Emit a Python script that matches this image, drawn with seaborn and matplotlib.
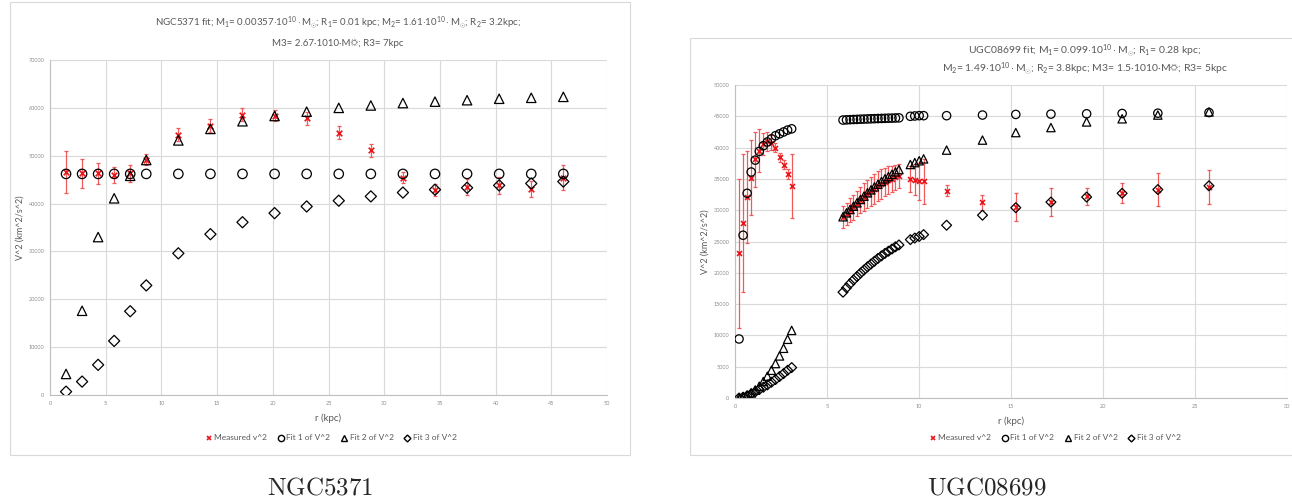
import numpy as np
import pandas as pd
import seaborn as sns
import matplotlib.pyplot as plt
from matplotlib.patches import Rectangle
from matplotlib.lines import Line2D

sns.set_style('white')
plt.rcParams['font.family'] = ['Lato', 'DejaVu Sans']
plt.rcParams['mathtext.fontset'] = 'custom'
plt.rcParams['mathtext.rm'] = 'Lato'
plt.rcParams['mathtext.it'] = 'Lato:italic'

# NGC5371 data
r_ngc = [1.44, 2.88, 4.32, 5.76, 7.2, 8.64, 11.52, 14.4, 17.28, 20.16,
         23.04, 25.92, 28.8, 31.68, 34.56, 37.44, 40.32, 43.2, 46.08]
meas_ngc = [46600, 46300, 46300, 46000, 46300, 49200, 54400, 56300, 58600, 58400,
            57800, 54800, 51100, 45400, 42900, 43400, 43800, 43000, 45400]
err_ngc = [4400, 3000, 2200, 1600, 1700, 1100, 1400, 1300, 1400, 1200,
           1400, 1350, 1300, 1100, 1250, 1650, 1800, 1650, 2600]
fit1_ngc = [46200, 46200, 46200, 46200, 46200, 46200, 46200, 46200, 46200, 46200,
            46200, 46200, 46200, 46200, 46200, 46200, 46200, 46200, 46200]
fit2_ngc = [4400, 17600, 33000, 41100, 45800, 49100, 53200, 55600, 57200, 58300,
            59200, 60000, 60500, 61000, 61300, 61600, 61900, 62100, 62300]
fit3_ngc = [700, 2800, 6300, 11300, 17500, 22900, 29600, 33600, 36100, 38000,
            39400, 40600, 41500, 42300, 42900, 43300, 43800, 44200, 44600]

# UGC08699 data
r_ugc = [0.22, 0.44, 0.66, 0.88, 1.10, 1.32, 1.54, 1.76, 1.98, 2.20, 2.42, 2.64, 2.86, 3.08,
         5.87, 6.06, 6.25, 6.44, 6.63, 6.82, 7.01, 7.20, 7.39, 7.58, 7.77, 7.96, 8.15, 8.34,
         8.53, 8.72, 8.91, 9.53, 9.77, 10.01, 10.25,
         11.50, 13.45, 15.26, 17.17, 19.11, 21.04, 22.98, 25.76]
meas_ugc = [23100, 27900, 32100, 35200, 38100, 39500, 40600, 41000, 40800, 40000, 38450, 37300, 35800, 33800,
            28900, 29400, 30000, 30500, 31000, 31600, 32100, 32600, 33000, 33400, 33800, 34200, 34500, 34800,
            35000, 35300, 35500, 35000, 34900, 34600, 34600,
            33100, 31300, 30500, 31300, 32200, 32800, 33300, 33700]
err_ugc = [11900, 11000, 7400, 6000, 4400, 3400, 1800, 1500, 1200, 700, 700, 750, 800, 5100,
           1700, 1800, 1900, 2000, 2000, 2100, 2200, 2300, 2300, 2400, 2400, 2400, 2300, 2200,
           2100, 2000, 1900, 2100, 2500, 2900, 3600,
           900, 1200, 2300, 2200, 1400, 1600, 2600, 2750]
fit1_ugc = [9430, 26000, 32700, 36100, 38000, 39400, 40300, 40900, 41400, 41900, 42200, 42500, 42800, 43000,
            44400, 44430, 44460, 44490, 44510, 44540, 44560, 44580, 44600, 44620, 44640, 44660, 44680, 44700,
            44710, 44730, 44750, 45000, 45050, 45100, 45100,
            45100, 45200, 45300, 45350, 45400, 45450, 45500, 45600]
fit2_ugc = [20, 180, 450, 810, 1290, 1880, 2630, 3480, 4430, 5500, 6720, 7940, 9380, 10800,
            28950, 29580, 30110, 30640, 31180, 31710, 32240, 32780, 33250, 33730, 34150, 34580, 35010, 35370,
            35740, 36120, 36490, 37300, 37600, 37900, 38200,
            39600, 41200, 42400, 43200, 44100, 44600, 45200, 45700]
fit3_ugc = [0, 130, 340, 660, 980, 1350, 1720, 2090, 2520, 2950, 3430, 3900, 4430, 4860,
            16900, 17600, 18250, 18850, 19400, 19950, 20450, 20950, 21400, 21850, 22300, 22700, 23100, 23450,
            23800, 24150, 24450, 25300, 25550, 25800, 26100,
            27600, 29200, 30400, 31300, 32100, 32700, 33300, 33900]

W, H = 1292, 499


def fx(px):
    return px / W


def fy(py):
    return 1 - py / H


def panel(ax, r, meas, err, f1, f2, f3, xmax, ymax, ystep, s):
    df = pd.DataFrame({'r': r, 'meas': meas, 'f1': f1, 'f2': f2, 'f3': f3})
    ax.errorbar(df['r'], df['meas'], yerr=err, fmt='none', ecolor='#f05a5a',
                elinewidth=0.9, capsize=1.3, capthick=0.9, zorder=2)
    sns.scatterplot(data=df, x='r', y='meas', marker='x', color='#e8161b', s=s * 0.35,
                    linewidth=1.2, ax=ax, zorder=3)
    for col, mk in [('f1', 'o'), ('f2', '^'), ('f3', 'D')]:
        size = s * 0.7 if mk == 'D' else s
        sns.scatterplot(data=df, x='r', y=col, marker=mk, color='black', facecolor='none',
                        edgecolor='black', linewidth=0.9, s=size, ax=ax, zorder=4)
    ax.set_xlim(0, xmax)
    ax.set_ylim(0, ymax)
    ax.set_xticks(np.arange(0, xmax + 1, 5))
    ax.set_yticks(np.arange(0, ymax + 1, ystep))
    ax.grid(True, color='#d9d9d9', lw=0.8)
    ax.set_axisbelow(True)
    for sp in ['top', 'right']:
        ax.spines[sp].set_visible(False)
    for sp in ['left', 'bottom']:
        ax.spines[sp].set_color('#bfbfbf')
        ax.spines[sp].set_linewidth(0.8)
    ax.tick_params(length=0, labelsize=4, labelcolor='#8c8c8c', pad=4)
    ax.set_xlabel('r (kpc)', fontsize=7, color='#595959', labelpad=6)
    ax.set_ylabel('V^2 (km^2/s^2)', fontsize=6.5, color='#595959', labelpad=3)


fig = plt.figure(figsize=(W / 100, H / 100), dpi=100)

# chart frames
fig.patches.append(Rectangle((fx(10), fy(455)), fx(620), (455 - 2) / H, transform=fig.transFigure,
                             fill=False, edgecolor='#d9d9d9', lw=0.8))
fig.patches.append(Rectangle((fx(690), fy(455)), fx(640), (455 - 38) / H, transform=fig.transFigure,
                             fill=False, edgecolor='#d9d9d9', lw=0.8))

ax1 = fig.add_axes([fx(50), fy(395), fx(607 - 50), (395 - 60) / H])
panel(ax1, r_ngc, meas_ngc, err_ngc, fit1_ngc, fit2_ngc, fit3_ngc, 50, 70000, 10000, 46)

ax2 = fig.add_axes([fx(735), fy(398), fx(1287 - 735), (398 - 85) / H])
panel(ax2, r_ugc, meas_ugc, err_ugc, fit1_ugc, fit2_ugc, fit3_ugc, 30, 50000, 5000, 36)

tc = '#595959'
fig.text(fx(338), fy(23), r'NGC5371 fit; M$_1$= 0.00357$\cdot$10$^{10}\cdot$M$_{\odot}$; R$_1$= 0.01 kpc; '
         r'M$_2$= 1.61$\cdot$10$^{10}\cdot$M$_{\odot}$; R$_2$= 3.2kpc;',
         ha='center', va='center', fontsize=7, color=tc)
fig.text(fx(338), fy(43), 'M3= 2.67\u00b71010\u00b7M\u263c; R3= 7kpc',
         ha='center', va='center', fontsize=7, color=tc)
fig.text(fx(1085), fy(51), r'UGC08699 fit; M$_1$= 0.099$\cdot$10$^{10}\cdot$M$_{\odot}$; R$_1$= 0.28 kpc;',
         ha='center', va='center', fontsize=7.5, color=tc)
fig.text(fx(1085), fy(69), r'M$_2$= 1.49$\cdot$10$^{10}\cdot$M$_{\odot}$; R$_2$= 3.8kpc; '
         'M3= 1.5\u00b71010\u00b7M\u263c; R3= 5kpc',
         ha='center', va='center', fontsize=7.5, color=tc)

handles = [
    Line2D([], [], ls='', marker='x', color='#e8161b', ms=3.5, mew=1.2),
    Line2D([], [], ls='', marker='o', mfc='none', mec='black', ms=4.5, mew=1),
    Line2D([], [], ls='', marker='^', mfc='none', mec='black', ms=4.5, mew=1),
    Line2D([], [], ls='', marker='D', mfc='none', mec='black', ms=3.5, mew=1),
]
labels = ['Measured v^2', 'Fit 1 of V^2', 'Fit 2 of V^2', 'Fit 3 of V^2']
for cx in [331, 1055]:
    fig.legend(handles, labels, loc='center', bbox_to_anchor=(fx(cx), fy(438)), ncol=4,
               frameon=False, fontsize=6, labelcolor='#595959', handlelength=0.8,
               handletextpad=0.3, columnspacing=1.2)

fig.text(fx(320), fy(487), r'$\mathrm{NGC5371}$', ha='center', va='center', fontsize=18,
         math_fontfamily='cm')
fig.text(fx(987), fy(487), r'$\mathrm{UGC08699}$', ha='center', va='center', fontsize=18,
         math_fontfamily='cm')

fig.savefig('out.png', dpi=100)
